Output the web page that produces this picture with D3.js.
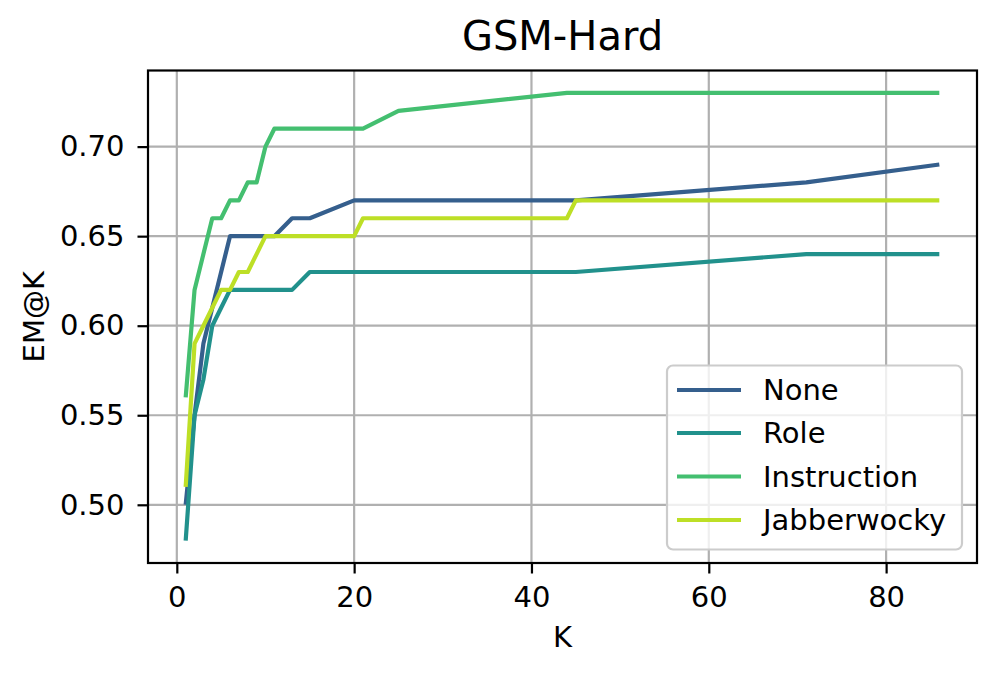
<!DOCTYPE html>
<html>
<head>
<meta charset="utf-8">
<script src="https://cdn.jsdelivr.net/npm/d3@7"></script>
<style>
  html, body { margin: 0; padding: 0; background: #fff; }
  svg { display: block; font-family: "DejaVu Sans", sans-serif; }
</style>
</head>
<body>
<svg id="chart" width="998" height="675"></svg>
<script>
const kValues = [1, 2, 3, 4, 5, 6, 7, 8, 9, 10, 11, 13, 15, 20, 21, 25, 44, 45, 71, 86];
const noneValues =        [0.50, 0.55, 0.59, 0.61, 0.63, 0.65, 0.65, 0.65, 0.65, 0.65, 0.65, 0.66, 0.66, 0.67, 0.67, 0.67, 0.67, 0.67, 0.68, 0.69];
const roleValues =        [0.48, 0.55, 0.57, 0.60, 0.61, 0.62, 0.62, 0.62, 0.62, 0.62, 0.62, 0.62, 0.63, 0.63, 0.63, 0.63, 0.63, 0.63, 0.64, 0.64];
const instructionValues = [0.56, 0.62, 0.64, 0.66, 0.66, 0.67, 0.67, 0.68, 0.68, 0.70, 0.71, 0.71, 0.71, 0.71, 0.71, 0.72, 0.73, 0.73, 0.73, 0.73];
const jabberwockyValues = [0.51, 0.59, 0.60, 0.61, 0.62, 0.62, 0.63, 0.63, 0.64, 0.65, 0.65, 0.65, 0.65, 0.65, 0.66, 0.66, 0.66, 0.67, 0.67, 0.67];
const seriesNames = ["None", "Role", "Instruction", "Jabberwocky"];
const xTicks = [0, 20, 40, 60, 80];
const yTicks = [0.50, 0.55, 0.60, 0.65, 0.70];
const title = "GSM-Hard";
const xLabel = "K";
const yLabel = "EM@K";

const colors = ["#355f8d", "#21918c", "#44bf70", "#bddf26"];
const allSeries = [noneValues, roleValues, instructionValues, jabberwockyValues];

const svg = d3.select("#chart");
const pL = 148, pR = 977, pT = 70.5, pB = 563;
const fs = 29;

const x = d3.scaleLinear().domain([-3.25, 90.25]).range([pL, pR]);
const y = d3.scaleLinear().domain([0.4675, 0.7425]).range([pB, pT]);

// grid
const grid = svg.append("g");
grid.selectAll("line.vx").data(xTicks).join("line")
  .attr("x1", d => x(d)).attr("x2", d => x(d))
  .attr("y1", pT).attr("y2", pB)
  .attr("stroke", "#b0b0b0").attr("stroke-width", 2.2);
grid.selectAll("line.hy").data(yTicks).join("line")
  .attr("y1", d => y(d)).attr("y2", d => y(d))
  .attr("x1", pL).attr("x2", pR)
  .attr("stroke", "#b0b0b0").attr("stroke-width", 2.2);

// lines
svg.append("defs").append("clipPath").attr("id", "clip")
  .append("rect").attr("x", pL).attr("y", pT).attr("width", pR - pL).attr("height", pB - pT);
const line = d3.line().x((d, i) => x(kValues[i])).y(d => y(d));
svg.append("g").attr("clip-path", "url(#clip)")
  .selectAll("path").data(allSeries).join("path")
  .attr("d", d => line(d))
  .attr("fill", "none")
  .attr("stroke", (d, i) => colors[i])
  .attr("stroke-width", 4.2)
  .attr("stroke-linejoin", "round")
  .attr("stroke-linecap", "butt");

// axes
const xAxis = d3.axisBottom(x).tickValues(xTicks).tickSize(10.5).tickPadding(11.5).tickFormat(d3.format("d"));
const gx = svg.append("g").attr("transform", `translate(0,${pB})`).call(xAxis);
const yAxis = d3.axisLeft(y).tickValues(yTicks).tickSize(10.5).tickPadding(13).tickFormat(d3.format(".2f"));
const gy = svg.append("g").attr("transform", `translate(${pL},0)`).call(yAxis);
[gx, gy].forEach(g => {
  g.select(".domain").remove();
  g.selectAll(".tick line").attr("stroke", "#000").attr("stroke-width", 2.2);
  g.selectAll(".tick text").attr("fill", "#000").attr("font-size", fs).attr("font-family", "DejaVu Sans");
});
gx.selectAll(".tick text").attr("dy", "0.75em");

// spines
svg.append("rect").attr("x", pL).attr("y", pT).attr("width", pR - pL).attr("height", pB - pT)
  .attr("fill", "none").attr("stroke", "#000").attr("stroke-width", 2.2);

// title and labels
svg.append("text").attr("x", (pL + pR) / 2).attr("y", 49.5).attr("text-anchor", "middle")
  .attr("font-size", 40).text(title);
svg.append("text").attr("x", (pL + pR) / 2).attr("y", 646.5).attr("text-anchor", "middle")
  .attr("font-size", fs).text(xLabel);
svg.append("text").attr("transform", `translate(43.5,${(pT + pB) / 2}) rotate(-90)`)
  .attr("text-anchor", "middle").attr("font-size", fs).text(yLabel);

// legend
const lg = svg.append("g");
lg.append("rect").attr("x", 667).attr("y", 365.5).attr("width", 295).attr("height", 184).attr("rx", 6)
  .attr("fill", "rgba(255,255,255,0.8)").attr("stroke", "#cccccc").attr("stroke-width", 2.2);
const rowY = [390, 433, 476.5, 520];
seriesNames.forEach((name, i) => {
  lg.append("line").attr("x1", 677).attr("x2", 741).attr("y1", rowY[i]).attr("y2", rowY[i])
    .attr("stroke", colors[i]).attr("stroke-width", 4.2);
  lg.append("text").attr("x", 763).attr("y", rowY[i]).attr("dy", "0.36em")
    .attr("font-size", fs).text(name);
});
</script>
</body>
</html>
